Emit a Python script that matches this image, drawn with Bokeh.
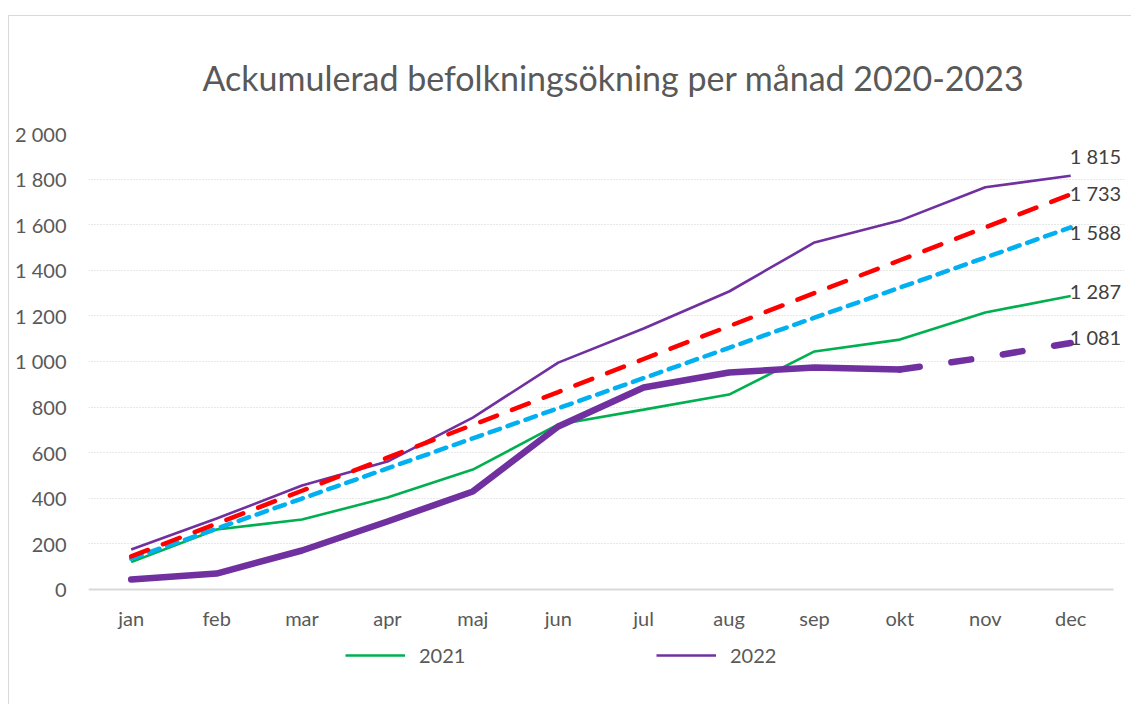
from bokeh.plotting import figure
from bokeh.models import (ColumnDataSource, Legend, LegendItem, LabelSet,
                          CustomJSTickFormatter, FixedTicker, Range1d)
from bokeh.core.properties import value
from bokeh.embed import file_html
from bokeh.resources import INLINE

months = ["jan", "feb", "mar", "apr", "maj", "jun", "jul", "aug", "sep", "okt", "nov", "dec"]
y2021 = [120, 263, 307, 403, 526, 724, 789, 855, 1044, 1096, 1215, 1287]
y2022 = [175, 311, 456, 561, 754, 995, 1145, 1307, 1522, 1618, 1764, 1815]
y2023 = [44, 70, 171, 298, 430, 715, 886, 952, 974, 965, 1018, 1081]
trend_red = [145, 289, 433, 578, 722, 866, 1011, 1155, 1300, 1444, 1588, 1733]
trend_blue = [135, 267, 399, 531, 663, 795, 927, 1060, 1192, 1324, 1456, 1588]
y_ticks = [0, 200, 400, 600, 800, 1000, 1200, 1400, 1600, 1800, 2000]

# month i is centred in its category slot, as on a category axis
xs = [i + 0.5 for i in range(len(months))]

FONT = "Lato"
TXT = "#595959"

p = figure(x_range=Range1d(0, len(months) + 0.13), y_range=(-465, 2000),
           width=1123, height=689,
           output_backend="svg", toolbar_location=None,
           title="Ackumulerad befolkningsökning per månad 2020-2023",
           min_border_left=79, min_border_right=8, min_border_top=117,
           min_border_bottom=10)
p.styles = {"margin-left": "8px", "margin-top": "15px",
            "border-left": "1px solid #d9d9d9", "border-top": "1px solid #d9d9d9"}
p.outline_line_color = None
p.background_fill_color = "white"
p.border_fill_color = "white"

xax = p.xaxis[0]
yax = p.yaxis[0]

p.title.text_font = FONT
p.title.text_font_size = "34px"
p.title.text_font_style = "normal"
p.title.text_color = TXT
p.title.align = "left"
p.title.offset = 114
p.title.standoff = 72

p.xgrid.grid_line_color = None
p.ygrid.grid_line_color = "#d0d0d0"
p.ygrid.grid_line_dash = "1 2"
p.ygrid.grid_line_width = 1
p.ygrid.ticker = FixedTicker(ticks=y_ticks[1:])

yax.ticker = FixedTicker(ticks=y_ticks)
yax.formatter = CustomJSTickFormatter(
    code="return String(tick).replace(/\\B(?=(\\d{3})+(?!\\d))/g, ' ');")
yax.axis_line_color = None
yax.major_tick_line_color = None
yax.minor_tick_line_color = None
yax.major_tick_out = 0
yax.major_tick_in = 0
yax.minor_tick_out = 0
yax.major_label_standoff = 22

xax.ticker = FixedTicker(ticks=xs)
xax.major_label_overrides = {x: m for x, m in zip(xs, months)}
xax.bounds = (0, len(months))
xax.fixed_location = 0
xax.axis_line_color = "#d9d9d9"
xax.axis_line_width = 2
xax.major_tick_line_color = None
xax.minor_tick_line_color = None
xax.major_label_standoff = 11
for ax in (xax, yax):
    ax.major_label_text_font = FONT
    ax.major_label_text_font_size = "20px"
    ax.major_label_text_color = TXT

r21 = p.line(xs, y2021, line_color="#00B050", line_width=2.6)
r22 = p.line(xs, y2022, line_color="#7030A0", line_width=2.6)
p.line(xs, trend_blue, line_color="#00B0F0", line_width=4.5,
       line_dash="11 8", line_cap="round")
p.line(xs, trend_red, line_color="#FF0000", line_width=4.5,
       line_dash="18 16", line_cap="round")
p.line(xs[:10], y2023[:10], line_color="#7030A0", line_width=6.5,
       line_cap="round", line_join="round")
p.line(xs[9:], y2023[9:], line_color="#7030A0", line_width=6.5,
       line_dash="20 32", line_cap="round")

end_vals = [y2022[-1], trend_red[-1], trend_blue[-1], y2021[-1], y2023[-1]]
end_offsets = [20, 1, -5, 5, 6]
lab_src = ColumnDataSource(dict(
    x=[xs[-1]] * len(end_vals), y=end_vals,
    t=[f"{v:,}".replace(",", " ") for v in end_vals],
    dy=end_offsets))
p.add_layout(LabelSet(x="x", y="y", text="t", source=lab_src, x_offset=-1,
                      y_offset="dy", text_font=value(FONT),
                      text_font_size=value("20px"),
                      text_color="#404040", text_baseline="middle",
                      text_align="left"))

legend = Legend(items=[LegendItem(label="2021", renderers=[r21]),
                       LegendItem(label="2022", renderers=[r22])],
                location=(257, 28), orientation="horizontal",
                glyph_width=60, glyph_height=20, label_standoff=14,
                label_width=123, spacing=114, padding=0, margin=0,
                border_line_color=None, background_fill_alpha=0,
                label_text_font=FONT, label_text_font_size="20px",
                label_text_color=TXT)
p.add_layout(legend, "center")

open("out.html", "w").write(file_html(p, INLINE))
